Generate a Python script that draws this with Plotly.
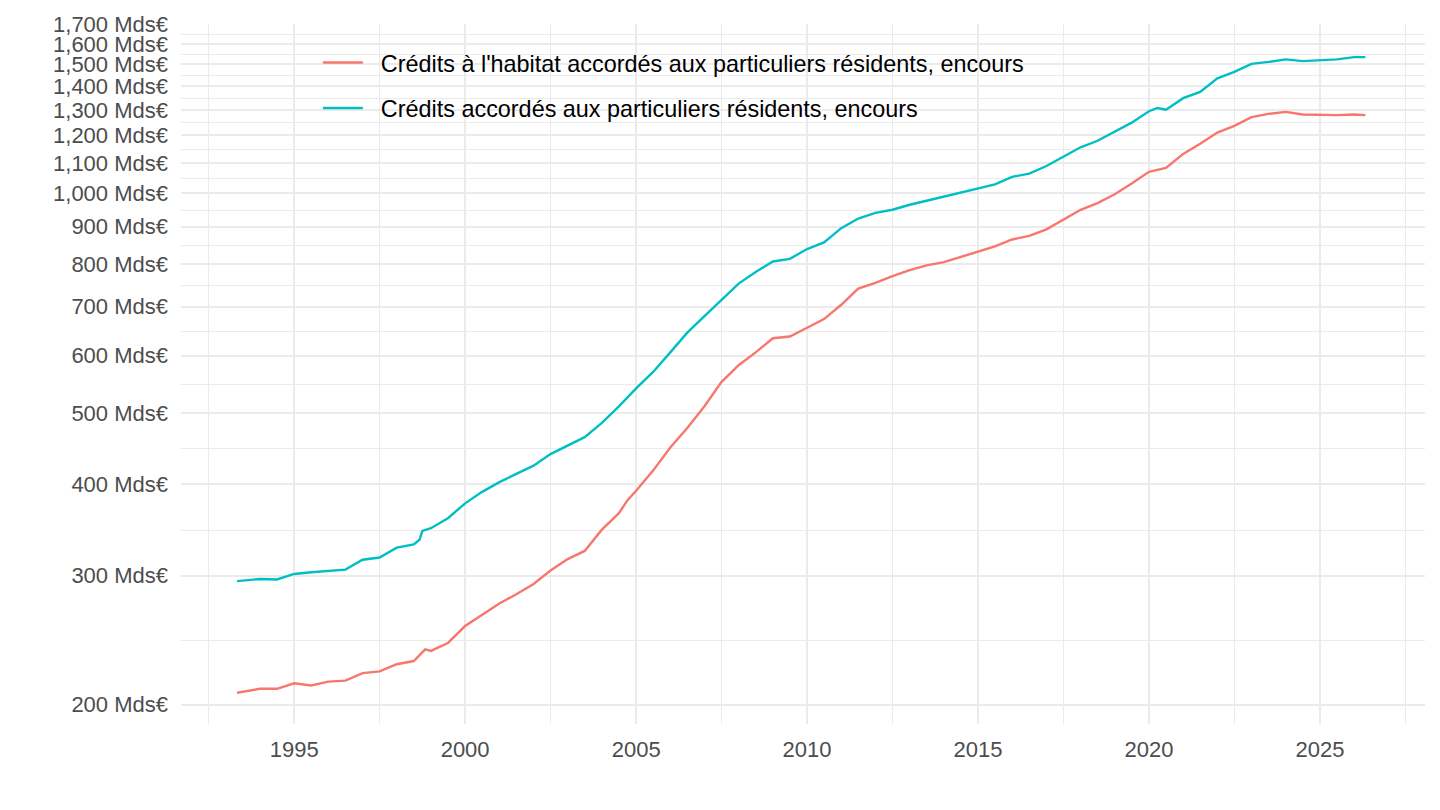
import plotly.graph_objects as go

# Crédits à l'habitat accordés aux particuliers résidents, encours (Mds€)
dates_habitat = [
    "1993-05-01", "1994-01-01", "1994-07-01", "1995-01-01", "1995-07-01",
    "1996-01-01", "1996-07-01", "1997-01-01", "1997-07-01", "1998-01-01",
    "1998-07-01", "1998-11-01", "1999-01-01", "1999-07-01", "2000-01-01",
    "2000-07-01", "2001-01-01", "2001-07-01", "2002-01-01", "2002-07-01",
    "2003-01-01", "2003-07-01", "2004-01-01", "2004-07-01", "2004-10-01",
    "2005-01-01", "2005-07-01", "2006-01-01", "2006-07-01", "2007-01-01",
    "2007-07-01", "2008-01-01", "2008-07-01", "2009-01-01", "2009-07-01",
    "2010-01-01", "2010-07-01", "2011-01-01", "2011-07-01", "2012-01-01",
    "2012-07-01", "2013-01-01", "2013-07-01", "2014-01-01", "2014-07-01",
    "2015-01-01", "2015-07-01", "2016-01-01", "2016-07-01", "2017-01-01",
    "2017-07-01", "2018-01-01", "2018-07-01", "2019-01-01", "2019-07-01",
    "2020-01-01", "2020-07-01", "2021-01-01", "2021-07-01", "2022-01-01",
    "2022-07-01", "2023-01-01", "2023-07-01", "2024-01-01", "2024-07-01",
    "2025-01-01", "2025-07-01", "2026-01-01", "2026-05-01",
]
habitat = [
    207.6, 210.2, 210.2, 213.9, 212.4,
    215.0, 215.7, 220.8, 222.0, 227.1,
    229.4, 238.0, 236.8, 242.8, 256.1,
    265.2, 274.9, 283.1, 292.4, 305.0,
    316.2, 324.4, 346.9, 365.3, 380.6,
    392.0, 417.7, 449.3, 477.8, 511.6,
    552.0, 582.0, 606.0, 633.7, 637.0,
    654.8, 673.0, 704.0, 740.9, 754.3,
    770.5, 785.0, 796.9, 805.1, 818.0,
    832.4, 845.9, 864.7, 874.7, 892.7,
    920.9, 949.4, 969.7, 997.0, 1031.0,
    1069.7, 1083.0, 1132.0, 1168.5, 1210.7,
    1236.3, 1271.0, 1284.0, 1292.0, 1281.5,
    1279.0, 1279.0, 1281.5, 1279.0,
]

# Crédits accordés aux particuliers résidents, encours (Mds€)
dates_total = [
    "1993-05-01", "1994-01-01", "1994-07-01", "1995-01-01", "1995-07-01",
    "1996-01-01", "1996-07-01", "1997-01-01", "1997-07-01", "1998-01-01",
    "1998-07-01", "1998-09-01", "1998-10-01", "1999-01-01", "1999-07-01",
    "2000-01-01", "2000-07-01", "2001-01-01", "2001-07-01", "2002-01-01",
    "2002-07-01", "2003-01-01", "2003-07-01", "2004-01-01", "2004-07-01",
    "2005-01-01", "2005-07-01", "2006-01-01", "2006-07-01", "2007-01-01",
    "2007-07-01", "2008-01-01", "2008-07-01", "2009-01-01", "2009-07-01",
    "2010-01-01", "2010-07-01", "2011-01-01", "2011-07-01", "2012-01-01",
    "2012-07-01", "2013-01-01", "2013-07-01", "2014-01-01", "2014-07-01",
    "2015-01-01", "2015-07-01", "2016-01-01", "2016-07-01", "2017-01-01",
    "2017-07-01", "2018-01-01", "2018-07-01", "2019-01-01", "2019-07-01",
    "2020-01-01", "2020-04-01", "2020-07-01", "2021-01-01", "2021-07-01",
    "2022-01-01", "2022-07-01", "2023-01-01", "2023-07-01", "2024-01-01",
    "2024-07-01", "2025-01-01", "2025-07-01", "2026-01-01", "2026-05-01",
]
total = [
    295.0, 297.0, 296.5, 301.7, 303.3,
    304.3, 305.9, 315.5, 317.7, 327.8,
    331.2, 336.0, 345.5, 348.4, 359.6,
    376.8, 390.7, 402.9, 413.5, 424.3,
    440.0, 451.4, 464.1, 485.3, 511.2,
    541.2, 569.9, 606.0, 644.8, 679.3,
    715.2, 752.6, 780.8, 806.9, 813.5,
    839.0, 856.5, 896.0, 923.7, 940.0,
    949.4, 964.5, 976.7, 990.0, 1003.2,
    1015.8, 1028.5, 1053.0, 1064.0, 1089.7,
    1120.6, 1155.8, 1179.7, 1213.0, 1248.9,
    1294.7, 1308.0, 1301.0, 1349.0, 1376.0,
    1436.0, 1465.0, 1503.0, 1512.0, 1524.0,
    1516.0, 1519.0, 1524.0, 1535.0, 1535.0,
]

y_ticks = list(range(200, 1800, 100))
y_labels = [f"{v:,} Mds€" for v in y_ticks]
# ggplot-style minor breaks: geometric midpoints between major breaks
y_minor = [(a * b) ** 0.5 for a, b in zip(y_ticks[:-1], y_ticks[1:])]

grid = "#EBEBEB"
pad = "\u00a0\u00a0"  # nudges legend text away from the key

fig = go.Figure()
fig.add_trace(go.Scatter(
    x=dates_habitat, y=habitat, mode="lines",
    name=pad + "Crédits à l'habitat accordés aux particuliers résidents, encours",
    line=dict(color="#F8766D", width=2.4), legendgroup="a",
))
fig.add_trace(go.Scatter(
    x=dates_total, y=total, mode="lines",
    name=pad + "Crédits accordés aux particuliers résidents, encours",
    line=dict(color="#00BFC4", width=2.4), legendgroup="b",
))

fig.update_layout(
    width=1440, height=810,
    margin=dict(l=181, r=15, t=13, b=86),
    paper_bgcolor="white", plot_bgcolor="white",
    font=dict(family="Liberation Sans, Arial, sans-serif", size=22, color="#4D4D4D"),
    showlegend=True,
    legend=dict(
        x=0.110, y=0.976, xanchor="left", yanchor="top",
        bgcolor="rgba(0,0,0,0)", font=dict(size=23.4, color="black"),
        traceorder="grouped", tracegroupgap=12, itemwidth=40,
    ),
)
fig.update_xaxes(
    type="date", range=["1991-09-10", "2028-01-28"],
    tick0="1995-01-01", dtick="M60", tickformat="%Y",
    showgrid=True, gridcolor=grid, gridwidth=2.2,
    minor=dict(tick0="1995-01-01", dtick="M30", showgrid=True, gridcolor=grid, gridwidth=1.1),
    zeroline=False, showline=False, ticks="", ticklabelstandoff=10,
)
fig.update_yaxes(
    type="log", range=[2.2745, 3.2314],
    tickmode="array", tickvals=y_ticks, ticktext=y_labels,
    showgrid=True, gridcolor=grid, gridwidth=2.2,
    minor=dict(tickmode="array", tickvals=y_minor, showgrid=True, gridcolor=grid, gridwidth=1.1),
    zeroline=False, showline=False, ticks="", ticklabelstandoff=12,
)

fig.write_html(
    "out.html",
    config={"displayModeBar": False},
    post_script="document.body.style.margin='0';document.body.style.overflow='hidden';",
)
